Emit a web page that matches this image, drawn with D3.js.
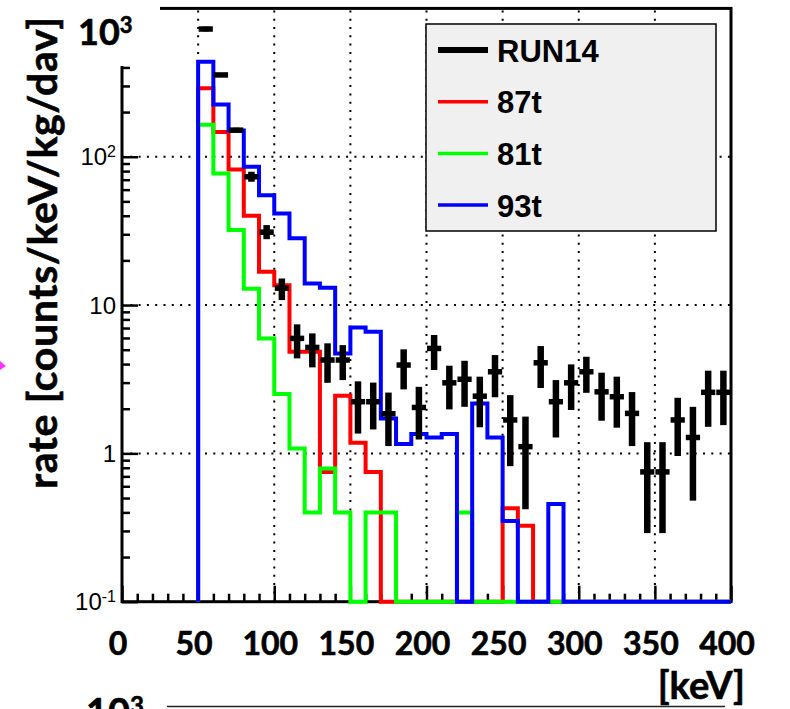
<!DOCTYPE html>
<html>
<head>
<meta charset="utf-8">
<script src="https://cdn.jsdelivr.net/npm/d3@7"></script>
<style>
	body { margin: 0; background: #fff; }
	svg { display: block; }
	.root-label { font-family: "Liberation Sans", Arial, sans-serif; }
	.slide-label { font-family: Lato, "Open Sans", sans-serif; font-weight: bold; stroke: #000; stroke-width: 0.6px; }
</style>
</head>
<body>
<div id="chart"></div>
<script>
// energy spectrum, RUN14 data vs three simulated samples

// bin edges in keV (10 keV bins)
var binEdges = [50, 60, 70, 80, 90, 100, 110, 120, 130, 140, 150, 160, 170, 180, 190, 200, 210, 220,
	230, 240, 250, 260, 270, 280, 290, 300, 310, 320, 330, 340, 350, 360, 370, 380, 390, 400];

// RUN14 measured rate, with lower / upper end of the error bar
var run14Rate = [726, 356, 151, 73.3, 31, 13.0, 5.96, 5.18, 4.26, 4.26, 2.23, 2.23, 1.85, 3.94, 2.04, 5.10, 2.99, 3.16,
	2.43, 3.55, 1.68, 1.11, 4.08, 2.23, 2.99, 3.55, 2.60, 2.41, 1.86, 0.75, 0.75, 1.68, 1.28, 2.58, 2.58];
var run14Lo = [700, 345, 146, 67.8, 27.8, 10.8, 4.37, 3.80, 2.99, 3.12, 1.36, 1.45, 1.12, 2.70, 1.24, 3.65, 1.98, 2.06,
	1.50, 2.39, 0.82, 0.42, 2.76, 1.28, 1.96, 2.56, 1.66, 1.49, 1.12, 0.29, 0.29, 0.96, 0.48, 1.51, 1.55];
var run14Hi = [752, 367, 157, 79.2, 34.6, 15.1, 7.41, 6.44, 5.52, 5.37, 3.06, 3.00, 2.57, 5.03, 2.81, 6.28, 3.90, 4.21,
	3.29, 4.60, 2.47, 1.77, 5.29, 3.12, 3.98, 4.48, 3.50, 3.29, 2.59, 1.19, 1.19, 2.37, 2.06, 3.61, 3.61];

// simulated spectra (0 = empty bin)
var sim87t = [290, 147, 82, 40, 16.8, 13.6, 4.84, 4.84, 0.75, 2.45, 1.18, 0.75, 0, 0, 0, 0, 0, 0,
	0, 0, 0.426, 0.325, 0, 0, 0, 0, 0, 0, 0, 0, 0, 0, 0, 0, 0];
var sim81t = [164, 77, 32, 12.9, 5.95, 2.51, 1.08, 0.40, 0.79, 0.40, 0, 0.40, 0.40, 0, 0, 0, 0, 0.40,
	0, 0, 0, 0, 0, 0, 0, 0, 0, 0, 0, 0, 0, 0, 0, 0, 0];
var sim93t = [437, 225, 150, 85.6, 55, 41.5, 28.2, 14.0, 13.1, 4.72, 7.07, 6.61, 1.72, 1.155, 1.35, 1.28, 1.35, 0,
	2.17, 1.28, 0.35, 0, 0, 0.455, 0, 0, 0, 0, 0, 0, 0, 0, 0, 0, 0];

var legendNames = ['RUN14', '87t', '81t', '93t'];
var legendColors = ['#000000', '#ff0000', '#00ff00', '#0000ff'];

var xTickLabels = [0, 50, 100, 150, 200, 250, 300, 350, 400];
var yTickLabels = [{v: 0.1, b: '10', e: '-1'}, {v: 1, b: '1'}, {v: 10, b: '10'}, {v: 100, b: '10', e: '2'}];

var width = 790, height = 709;
var yMin = 0.1;

var svg = d3.select('#chart').append('svg')
	.attr('width', width).attr('height', height);

var x = d3.scaleLinear().domain([0, 400]).range([122, 731]);
var y = d3.scaleLog().domain([yMin, 1000]).range([601.7, 8.4]);

// grid
var grid = svg.append('g').attr('class', 'grid')
	.attr('stroke', '#000').attr('stroke-width', 2).attr('stroke-dasharray', '2,6.3');
grid.selectAll('line.gx').data(x.ticks(8).filter(function (d) { return d > 0 && d < 400; }))
	.enter().append('line').attr('class', 'gx')
	.attr('x1', function (d) { return x(d); }).attr('x2', function (d) { return x(d); })
	.attr('y1', y(yMin)).attr('y2', y(1000));
grid.selectAll('line.gy').data([1, 10, 100])
	.enter().append('line').attr('class', 'gy')
	.attr('y1', function (d) { return y(d); }).attr('y2', function (d) { return y(d); })
	.attr('x1', x(0)).attr('x2', x(400));

// axes (ticks inside the frame)
var isDecade = function (d) { return Math.abs(Math.log10(d) - Math.round(Math.log10(d))) < 1e-6; };
var yMinor = y.ticks().filter(function (d) { return !isDecade(d); });
var yMajor = y.ticks().filter(isDecade);
var xMajor = x.ticks(8);
var xMinor = x.ticks(40).filter(function (d) { return d % 50 !== 0; });

function styleAxis(g) {
	g.select('.domain').remove();
	g.selectAll('.tick line').attr('stroke', '#000').attr('stroke-width', 2.5);
	g.selectAll('.tick text').remove();
}
svg.append('g').attr('transform', 'translate(' + x(0) + ',0)')
	.call(d3.axisLeft(y).tickValues(yMinor).tickSize(-8).tickSizeOuter(0)).call(styleAxis);
svg.append('g').attr('transform', 'translate(' + x(0) + ',0)')
	.call(d3.axisLeft(y).tickValues(yMajor).tickSize(-16).tickSizeOuter(0)).call(styleAxis);
svg.append('g').attr('transform', 'translate(0,' + y(yMin) + ')')
	.call(d3.axisBottom(x).tickValues(xMinor).tickSize(-8).tickSizeOuter(0)).call(styleAxis);
svg.append('g').attr('transform', 'translate(0,' + y(yMin) + ')')
	.call(d3.axisBottom(x).tickValues(xMajor).tickSize(-16).tickSizeOuter(0)).call(styleAxis);

// frame
svg.append('rect')
	.attr('x', x(0)).attr('y', y(1000))
	.attr('width', x(400) - x(0)).attr('height', y(yMin) - y(1000))
	.attr('fill', 'none').attr('stroke', '#000').attr('stroke-width', 3);

// histograms
var histLine = d3.line()
	.x(function (d) { return x(d[0]); })
	.y(function (d) { return y(Math.max(d[1], yMin)); })
	.curve(d3.curveStepAfter);

function histPoints(vals) {
	var pts = [[binEdges[0], 0]];
	vals.forEach(function (v, i) { pts.push([binEdges[i], v]); });
	pts.push([binEdges[binEdges.length - 1], vals[vals.length - 1]]);
	return pts;
}

[[sim87t, legendColors[1]], [sim81t, legendColors[2]], [sim93t, legendColors[3]]].forEach(function (h) {
	svg.append('path')
		.attr('d', histLine(histPoints(h[0])))
		.attr('fill', 'none')
		.attr('stroke', h[1])
		.attr('stroke-width', 4)
		.attr('stroke-linejoin', 'miter');
});

// RUN14 points
var pts = run14Rate.map(function (v, i) {
	return {lo: binEdges[i], hi: binEdges[i + 1], v: v, eLo: run14Lo[i], eHi: run14Hi[i]};
});
var dp = svg.append('g').attr('class', 'data').attr('stroke', '#000');
dp.selectAll('line.ex').data(pts).enter().append('line').attr('class', 'ex')
	.attr('x1', function (d) { return x(d.lo) + 0.5; })
	.attr('x2', function (d) { return x(d.hi) - 0.5; })
	.attr('y1', function (d) { return y(d.v); })
	.attr('y2', function (d) { return y(d.v); })
	.attr('stroke-width', 5.5);
dp.selectAll('line.ey').data(pts).enter().append('line').attr('class', 'ey')
	.attr('x1', function (d) { return x((d.lo + d.hi) / 2); })
	.attr('x2', function (d) { return x((d.lo + d.hi) / 2); })
	.attr('y1', function (d) { return y(d.eLo); })
	.attr('y2', function (d) { return y(d.eHi); })
	.attr('stroke-width', 6.5);

// legend
var leg = svg.append('g').attr('class', 'legend');
leg.append('rect')
	.attr('x', 426).attr('y', 24).attr('width', 290).attr('height', 207)
	.attr('fill', '#f0f0f0').attr('stroke', '#000').attr('stroke-width', 1.5);
var rows = leg.selectAll('g.row').data(legendNames).enter().append('g').attr('class', 'row')
	.attr('transform', function (d, i) { return 'translate(0,' + (50 + i * 51.7) + ')'; });
rows.append('line')
	.attr('x1', 438).attr('x2', 488).attr('y1', 0).attr('y2', 0)
	.attr('stroke', function (d, i) { return legendColors[i]; })
	.attr('stroke-width', function (d, i) { return i === 0 ? 6 : 3.5; });
rows.append('text').attr('class', 'root-label')
	.attr('x', 497).attr('y', 11.5)
	.style('font-size', '31px').style('font-weight', 'bold')
	.text(function (d) { return d; });

// ROOT y labels
var yl = svg.append('g').attr('class', 'root-label');
yTickLabels.forEach(function (t) {
	var txt = yl.append('text')
		.attr('x', 116).attr('y', y(t.v)).attr('dy', '0.36em')
		.attr('text-anchor', 'end')
		.style('font-size', '24px');
	txt.append('tspan').text(t.b);
	if (t.e) {
		txt.append('tspan').attr('dy', '-0.55em').style('font-size', '16px').text(t.e);
	}
});

// white boxes pasted on the slide
svg.append('rect').attr('x', 70).attr('y', 0).attr('width', 90).attr('height', 66).attr('fill', '#fff');
svg.append('rect').attr('x', 60).attr('y', 610).attr('width', 730).attr('height', 99).attr('fill', '#fff');

// slide labels
var big = svg.append('text').attr('class', 'slide-label')
	.attr('x', 78).attr('y', 45).style('font-size', '36px');
big.append('tspan').text('10');
big.append('tspan').attr('dy', -12).style('font-size', '22px').text('3');

svg.append('g').attr('class', 'slide-label').selectAll('text')
	.data(xTickLabels).enter().append('text')
	.attr('x', function (d) { return x(d) - 4; }).attr('y', 655)
	.attr('text-anchor', 'middle')
	.style('font-size', '32px')
	.text(function (d) { return d; });

svg.append('text').attr('class', 'slide-label')
	.attr('x', 745).attr('y', 699).attr('text-anchor', 'end')
	.style('font-size', '38px').text('[keV]');

svg.append('text').attr('class', 'slide-label')
	.attr('transform', 'translate(57,489) rotate(-90)')
	.attr('textLength', 472).attr('lengthAdjust', 'spacing')
	.style('font-size', '41px')
	.text('rate [counts/keV/kg/dav]');

// bits of the next plot on the slide
var nb = svg.append('text').attr('class', 'slide-label')
	.attr('x', 86).attr('y', 726).style('font-size', '38px');
nb.append('tspan').text('10');
nb.append('tspan').attr('dy', -12).style('font-size', '24px').text('3');
svg.append('text').attr('class', 'slide-label')
	.attr('transform', 'translate(57,726) rotate(-90)')
	.style('font-size', '41px').text(']');
svg.append('line').attr('x1', 167).attr('x2', 725).attr('y1', 706.5).attr('y2', 706.5)
	.attr('stroke', '#222').attr('stroke-width', 1.5);
svg.append('path').attr('d', 'M0,361 L6,366 L0,370 Z').attr('fill', '#ff33ff');
</script>
</body>
</html>
